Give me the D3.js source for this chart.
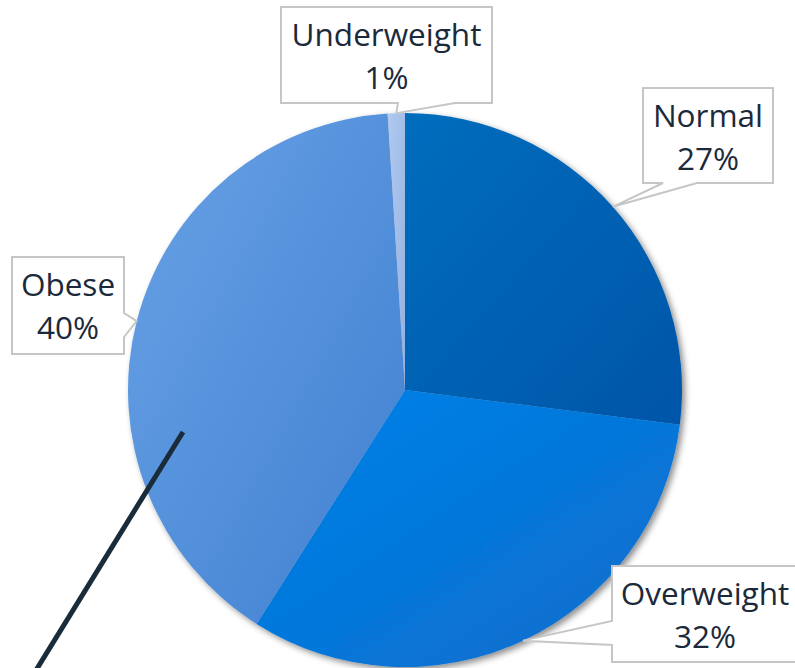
<!DOCTYPE html>
<html>
<head>
<meta charset="utf-8">
<script src="https://d3js.org/d3.v7.min.js"></script>
<style>
  body { margin: 0; background: #fff; }
  svg { display: block; }
  .lbl { font-family: "Open Sans", sans-serif; font-size: 31.5px; fill: #1b2a3a; text-anchor: middle; }
</style>
</head>
<body>
<svg id="chart"></svg>
<script>
// data
const categories = ["Normal", "Overweight", "Obese", "Underweight"];
const percents = [27, 32, 40, 1];
const colorsLight = ["#066dbd", "#0282ea", "#68a2e6", "#b0caf0"];
const colorsDark = ["#0255a8", "#0a6cca", "#4180d0", "#94b2e0"];

// callout boxes: [x0, y0, x1, y1], side where the pointer leaves, base of pointer
const boxes = [
  { box: [643, 88, 773, 183], side: "bottom", base: [663, 697] },
  { box: [612, 566, 800, 662], side: "left", base: [621, 645] },
  { box: [12, 257, 124, 354], side: "right", base: [313, 337] },
  { box: [281, 7, 492, 103], side: "bottom", base: [398, 455] }
];

const width = 795, height = 668;
const cx = 405, cy = 390, radius = 277;

const svg = d3.select("#chart").attr("width", width).attr("height", height);
const defs = svg.append("defs");

const shadow = defs.append("filter").attr("id", "shadow")
  .attr("x", "-10%").attr("y", "-10%").attr("width", "125%").attr("height", "125%");
shadow.append("feDropShadow").attr("dx", 3).attr("dy", 3)
  .attr("stdDeviation", 3).attr("flood-color", "#000").attr("flood-opacity", 0.45);

categories.forEach((c, i) => {
  const g = defs.append("linearGradient").attr("id", "grad" + i)
    .attr("x1", 0).attr("y1", 0).attr("x2", 1).attr("y2", 1);
  g.append("stop").attr("offset", "0%").attr("stop-color", colorsLight[i]);
  g.append("stop").attr("offset", "100%").attr("stop-color", colorsDark[i]);
});

const slices = categories.map((c, i) => ({ name: c, value: percents[i], i }));
const pie = d3.pie().sort(null).value(d => d.value);
const arc = d3.arc().innerRadius(0).outerRadius(radius);
const arcs = pie(slices);

const pieG = svg.append("g").attr("transform", `translate(${cx},${cy})`)
  .attr("filter", "url(#shadow)");
pieG.selectAll("path").data(arcs).enter().append("path")
  .attr("d", arc)
  .attr("fill", d => `url(#grad${d.data.i})`);

// callouts
function calloutPath(b, tip) {
  const [x0, y0, x1, y1] = b.box;
  const [p, q] = b.base;
  let pts;
  if (b.side === "bottom") {
    pts = [[x0, y0], [x1, y0], [x1, y1], [q, y1], tip, [p, y1], [x0, y1]];
  } else if (b.side === "right") {
    pts = [[x0, y0], [x1, y0], [x1, p], tip, [x1, q], [x1, y1], [x0, y1]];
  } else {
    pts = [[x0, y0], [x1, y0], [x1, y1], [x0, y1], [x0, q], tip, [x0, p]];
  }
  return "M" + pts.map(d => d.join(",")).join("L") + "Z";
}

const labelG = svg.append("g");
arcs.forEach((a, i) => {
  const mid = (a.startAngle + a.endAngle) / 2;
  const tip = [cx + radius * Math.sin(mid), cy - radius * Math.cos(mid)];
  const b = boxes[i];
  labelG.append("path")
    .attr("d", calloutPath(b, tip))
    .attr("fill", "#fff")
    .attr("stroke", "#c6c6c6")
    .attr("stroke-width", 2);
  const tx = b.side === "left" ? 705 : (b.box[0] + b.box[2]) / 2;
  const t = labelG.append("text").attr("class", "lbl");
  t.append("tspan").attr("x", tx).attr("y", b.box[1] + 39).text(a.data.name);
  t.append("tspan").attr("x", tx).attr("y", b.box[1] + 82).text(d3.format(".0f")(a.data.value) + "%");
});

// annotation pointer line
svg.append("line")
  .attr("x1", 183).attr("y1", 432).attr("x2", 30).attr("y2", 680)
  .attr("stroke", "#1a2b3a").attr("stroke-width", 5);
</script>
</body>
</html>
